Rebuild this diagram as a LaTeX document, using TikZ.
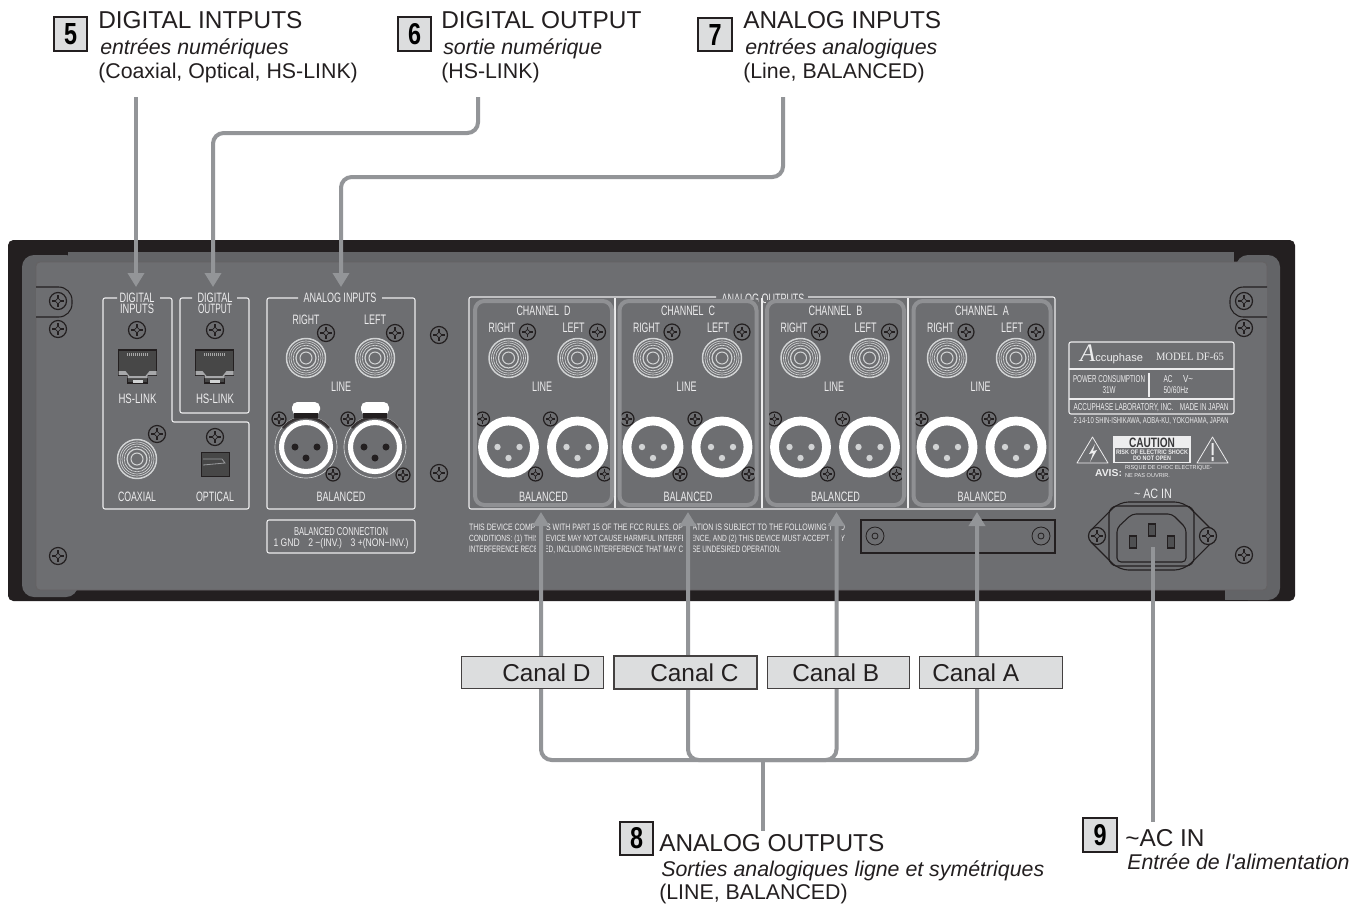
\documentclass[tikz,border=0pt]{standalone}
\usepackage{fontspec}
\usepackage{graphicx}
\setmainfont{Liberation Sans}
\newfontfamily\serifp{Liberation Serif}
\usetikzlibrary{arrows.meta}
\definecolor{bodyc}{HTML}{231F20}
\definecolor{rimc}{HTML}{636467}
\definecolor{panelc}{HTML}{6D6E71}
\definecolor{frameC}{HTML}{8F9093}
\definecolor{leadc}{HTML}{939598}
\definecolor{inkc}{HTML}{231F20}
\definecolor{paperc}{HTML}{DCDDDE}
\definecolor{whc}{HTML}{EDEDEE}
\definecolor{ringc}{HTML}{D1D3D4}
\newlength\pxu \setlength\pxu{.75pt}
\newcount\ptc
\tikzset{
  leader/.style={draw=leadc,line width=3pt,rounded corners=8pt},
  tipped/.style={-{Triangle[length=10.5pt,width=12pt]}},
  wbox/.style={draw=whc,line width=.8pt,rounded corners=1.5pt},
  badge/.style={draw=inkc,fill=paperc,line width=1.7pt,inner sep=0pt,minimum width=25pt,minimum height=25pt},
  canal/.style={draw=inkc!85,fill=paperc,line width=.7pt,inner sep=0pt,minimum width=107pt,minimum height=24.5pt},
  canaltx/.style={inner sep=0pt,anchor=base west,text=inkc,font=\fontsize{18.3}{20}\selectfont},
  headtx/.style={inner sep=0pt,anchor=base west,text=inkc,font=\fontsize{18.3}{20}\selectfont},
  ittx/.style={inner sep=0pt,anchor=base west,text=inkc,font=\fontsize{16}{18}\selectfont\itshape},
  subtx/.style={inner sep=0pt,anchor=base west,text=inkc,font=\fontsize{16}{18}\selectfont},
  ptn/.style={inner sep=0pt,anchor=base,text=whc},
  dk/.style={draw=bodyc,line width=.8pt},
}
\newcommand\ptxt[5][9.5]{\global\advance\ptc 1 \node[ptn] (pt\the\ptc) at (#2,#3) {\resizebox{#4\pxu}{#1\pxu}{#5}};}
\newcommand\dtxt[5][9.5]{\global\advance\ptc 1 \node[ptn,text=#5] (pt\the\ptc) at (#2,#3) {\resizebox{#4\pxu}{#1\pxu}{\textbf{CAUTION}}};}
\newcommand\screw[3]{\begin{scope}[shift={(#1,#2)}]
  \draw[draw=bodyc,line width=.9pt,fill=panelc] (0,0) circle (#3);
  \draw[draw=bodyc,line width=1.4pt] ({-.68*#3},0) -- ({.68*#3},0) (0,{-.68*#3}) -- (0,{.68*#3});
  \draw[draw=bodyc,line width=.5pt,fill=panelc] ({-.33*#3},0) -- (0,{-.33*#3}) -- ({.33*#3},0) -- (0,{.33*#3}) -- cycle;
\end{scope}}
\newcommand\rca[2]{\begin{scope}[shift={(#1,#2)}]
  \draw[ringc,line width=1.1pt] (0,0) circle (19.5);
  \foreach \r in {17,15,12.8} {\draw[ringc,line width=.5pt] (0,0) circle (\r);}
  \draw[ringc,line width=.9pt] (0,0) circle (10);
  \draw[ringc,line width=.8pt] (0,0) circle (6);
\end{scope}}
\newcommand\rj[2]{\begin{scope}[shift={(#1,#2)}]
  \draw[fill=black!72,draw=bodyc,line width=.8pt] (-19,-7) -- (19,-7) -- (19,18) -- (10,18) -- (10,26) -- (-10,26) -- (-10,18) -- (-19,18) -- cycle;
  \fill[panelc!60] (-19,18) -- (-19,14) -- (-12,14) -- (-8,19) -- (8,19) -- (12,14) -- (19,14) -- (19,18) -- (10,18) -- (10,21) -- (-10,21) -- (-10,18) -- cycle;
  \fill[ringc] (-5,23) rectangle (5,26);
  \foreach \d in {-10,-8,...,10} {\fill[black!35] ({\d-.5},-4.5) rectangle ({\d+.5},-1);}
\end{scope}}
\newcommand\xlrf[2]{\begin{scope}[shift={(#1,#2)}]
  \draw[ringc,line width=.5pt] (0,0) circle (31);
  \draw[bodyc!90,line width=2pt] (-23,-19) arc[start angle=220,end angle=320,radius=30];
  \fill[white,rounded corners=4pt] (-14,-45) rectangle (14,-32);
  \fill[bodyc] (-12,-34) rectangle (12,-29);
  \draw[white,line width=3.8pt] (0,0) circle (24.5);
  \fill[bodyc] (-11,0) circle (3.5) (11,0) circle (3.5) (0,11) circle (3.5);
\end{scope}}
\newcommand\xlrm[2]{\begin{scope}[shift={(#1,#2)}]
  \draw[white,line width=6.6pt] (0,0) circle (26);
  \fill[ringc] (-11,0) circle (3.2) (11,0) circle (3.2) (0,11) circle (3.2);
\end{scope}}
\begin{document}
\begin{tikzpicture}[x=.75pt,y=-.75pt]
\useasboundingbox (0,0) rectangle (1365,904);
\fill[white] (0,0) rectangle (1365,904);

% chassis
\fill[bodyc,rounded corners=4pt] (8,240) rectangle (1295,601);
\fill[rimc,rounded corners=9pt] (22,255) rectangle (78,597);
\fill[rimc] (68,252) rectangle (1234,268);
\fill[rimc,rounded corners=9pt] (1236,255) rectangle (1280,600);
\fill[rimc] (1225,585) rectangle (1260,600);
\draw[fill=panelc,draw=bodyc!70,line width=.6pt,rounded corners=3pt] (36,262) rectangle (1267,590);

% lugs
\draw[dk,fill=panelc,rounded corners=10pt] (36,287) -- (72,287) -- (72,317) -- (36,317);
\draw[dk,fill=panelc,rounded corners=10pt] (1267,287) -- (1230,287) -- (1230,317) -- (1267,317);

% chassis screws
\screw{58}{301}{8.5}\screw{58}{329}{8.5}\screw{58}{556}{8.5}
\screw{1244}{301}{8.5}\screw{1244}{328}{8.5}\screw{1244}{555}{8.5}
\screw{439}{335}{8.5}\screw{439}{473}{8.5}

% digital group
\draw[wbox] (117,298) -- (103,298) -- (103,509) -- (249,509) -- (249,422) -- (172,422) -- (172,298) -- (160,298);
\draw[wbox] (192,298) -- (180,298) -- (180,413) -- (249,413) -- (249,298) -- (237,298);
\ptxt{137}{302}{35}{DIGITAL}\ptxt{137}{313}{34}{INPUTS}
\ptxt{215}{302}{35}{DIGITAL}\ptxt{215}{313}{34}{OUTPUT}
\screw{137}{330}{8.5}\screw{215}{330}{8.5}
\rj{137.5}{357}\rj{214.5}{357}
\ptxt{137.5}{403}{38}{HS-LINK}\ptxt{215}{403}{38}{HS-LINK}
\rca{137}{459}\screw{157}{434}{8.5}
\screw{215}{437}{8.5}
\fill[black!72,draw=bodyc,line width=.7pt] (201.5,452) rectangle (229,476);
\draw[panelc!70,line width=.6pt] (203,459) -- (222,459) -- (225,463) -- (203,465);
\ptxt{137}{501}{38}{COAXIAL}\ptxt{215}{501}{38}{OPTICAL}

% analog inputs
\draw[wbox] (298,298) -- (267,298) -- (267,509) -- (415,509) -- (415,298) -- (382,298);
\ptxt{340}{302}{73}{ANALOG INPUTS}
\ptxt{306}{324}{27}{RIGHT}\ptxt{375}{324}{22}{LEFT}
\rca{306}{358}\rca{375}{358}
\screw{326}{333}{8.5}\screw{395}{333}{8.5}
\ptxt{341}{391}{20}{LINE}
\xlrf{306}{447}\xlrf{375}{447}
\screw{279}{419}{7}\screw{348}{419}{7}\screw{333}{474}{7}\screw{403}{475}{7}
\ptxt{341}{501}{49}{BALANCED}
\draw[wbox] (267,520) rectangle (415,553);
\ptxt[8]{341}{535}{94}{BALANCED CONNECTION}
\ptxt[8]{341}{546}{135}{1 GND\quad 2 −(INV.)\quad 3 +(NON−INV.)}

% analog outputs
\draw[wbox] (716,297) -- (469,297) -- (469,509) -- (1055,509) -- (1055,297) -- (808,297);
\ptxt{763}{303}{83}{ANALOG OUTPUTS}
\draw[whc,line width=.8pt] (615,298) -- (615,508) (762,298) -- (762,508) (908,298) -- (908,508);
\foreach \cx/\nm in {543.5/D,688/C,835.5/B,982/A}{
  \fill[panelc] (\cx-70,300) rectangle (\cx+70,506);
  \ptxt{\cx}{315}{54}{CHANNEL\ \ \nm}
  \ptxt{\cx-41.5}{332}{27}{RIGHT}\ptxt{\cx+30}{332}{22}{LEFT}
  \rca{\cx-35}{358}\rca{\cx+34}{358}
  \screw{\cx-16}{332}{8}\screw{\cx+54}{332}{8}
  \ptxt{\cx-1.5}{391}{20}{LINE}
  \xlrm{\cx-35}{447}\xlrm{\cx+34}{447}
  \screw{\cx-61}{419}{7}\screw{\cx+7}{419}{7}\screw{\cx-8}{474}{7}\screw{\cx+61}{474}{7}
  \ptxt{\cx}{501}{49}{BALANCED}
  \draw[frameC,line width=3pt,rounded corners=7pt] (\cx-68.5,301) rectangle (\cx+68.5,505);
}

% FCC notice
\ptxt[6.5]{657}{530}{376}{THIS DEVICE COMPLIES WITH PART 15 OF THE FCC RULES. OPERATION IS SUBJECT TO THE FOLLOWING TWO}
\ptxt[6.5]{657}{541}{376}{CONDITIONS: (1) THIS DEVICE MAY NOT CAUSE HARMFUL INTERFERENCE, AND (2) THIS DEVICE MUST ACCEPT ANY}
\ptxt[6.5]{625}{552}{312}{INTERFERENCE RECEIVED, INCLUDING INTERFERENCE THAT MAY CAUSE UNDESIRED OPERATION.}

% blank plate
\draw[dk] (861,520) rectangle (1055,553);
\draw[dk,line width=.6pt] (875,536) circle (9) (875,536) circle (3) (1041,536) circle (9) (1041,536) circle (3);

% rating plate
\draw[wbox] (1069,342) rectangle (1234,414);
\draw[whc,line width=.8pt] (1069,369) -- (1234,369) (1069,399) -- (1234,399);
\draw[whc,line width=.8pt] (1149,373) -- (1149,397);
\node[ptn] (logo) at (1111.5,361) {\resizebox{63\pxu}{!}{{\serifp\itshape\fontsize{34}{34}\selectfont A}{\fontsize{15}{15}\selectfont ccuphase}}};
\node[ptn] (model) at (1190,360) {\resizebox{68\pxu}{7.5\pxu}{\serifp MODEL DF-65}};
\ptxt[7]{1109}{382}{72}{POWER CONSUMPTION}\ptxt[7]{1109}{393}{13}{31W}
\ptxt[7]{1168}{382}{9}{AC}\ptxt[7]{1188}{382}{10}{V\textasciitilde}
\ptxt[7]{1176}{393}{25}{50/60Hz}
\ptxt[7]{1151}{410}{155}{ACCUPHASE LABORATORY, INC.\quad MADE IN JAPAN}
\ptxt[6]{1151}{423}{155}{2-14-10 SHIN-ISHIKAWA, AOBA-KU, YOKOHAMA, JAPAN}
\draw[whc,line width=.6pt,line join=round] (1077,463) -- (1092.5,437) -- (1108,463) -- cycle;
\fill[whc] (1095,444) -- (1089,454) -- (1093,453) -- (1090,462) -- (1097,450) -- (1093,451) -- cycle;
\draw[whc,line width=.6pt,line join=round] (1197,463) -- (1212.5,437) -- (1228,463) -- cycle;
\fill[whc] (1211.5,443) rectangle (1213.5,455) (1211.5,457) rectangle (1213.5,461);
\fill[whc] (1113,436) rectangle (1191,463);
\fill[panelc] (1115,448) rectangle (1189,461.5);
\dtxt{1152}{447}{46}{panelc!50!black}
\ptxt[4.5]{1152}{454}{72}{\textbf{RISK OF ELECTRIC SHOCK}}
\ptxt[4.5]{1152}{460.5}{38}{\textbf{DO NOT OPEN}}
\ptxt[7]{1108.5}{476}{27}{\textbf{AVIS:}}
\ptxt[4]{1168.5}{469.5}{87}{RISQUE DE CHOC ELECTRIQUE-}
\ptxt[4]{1147.5}{477.5}{45}{NE PAS OUVRIR.}

% AC inlet
\ptxt{1153}{498}{38}{\textasciitilde\ AC IN}
\draw[dk,rounded corners=7pt] (1085,536) -- (1119,502) -- (1184,502) -- (1218,536) -- (1184,570) -- (1119,570) -- cycle;
\draw[dk,rounded corners=6pt] (1109,506) rectangle (1194,566);
\draw[dk,rounded corners=3pt] (1117,528) -- (1132,514) -- (1172,514) -- (1186,528) -- (1186,562) -- (1117,562) -- cycle;
\draw[dk,fill=rimc!80!black] (1129.5,536) rectangle (1136.5,548) (1148.5,524) rectangle (1155.5,536) (1167.5,536) rectangle (1174.5,548);
\screw{1097}{536}{8.5}\screw{1208}{536}{8.5}

% callout text
\node[badge] (b5) at (70.5,34) {\resizebox{13\pxu}{21\pxu}{\textbf{5}}};
\node[headtx] (t5a) at (98,28) {DIGITAL INTPUTS};
\node[ittx]   (t5b) at (100,54) {entrées numériques};
\node[subtx]  (t5c) at (98,78) {(Coaxial, Optical, HS-LINK)};
\node[badge] (b6) at (414.5,34) {\resizebox{13\pxu}{21\pxu}{\textbf{6}}};
\node[headtx] (t6a) at (441,28) {DIGITAL OUTPUT};
\node[ittx]   (t6b) at (443,54) {sortie numérique};
\node[subtx]  (t6c) at (441,78) {(HS-LINK)};
\node[badge] (b7) at (715,34.5) {\resizebox{13\pxu}{21\pxu}{\textbf{7}}};
\node[headtx] (t7a) at (743,28) {ANALOG INPUTS};
\node[ittx]   (t7b) at (745,54) {entrées analogiques};
\node[subtx]  (t7c) at (743,78) {(Line, BALANCED)};
\node[badge] (b8) at (636.5,838.5) {\resizebox{13\pxu}{21\pxu}{\textbf{8}}};
\node[headtx] (t8a) at (659,851) {ANALOG OUTPUTS};
\node[ittx]   (t8b) at (661,876) {Sorties analogiques ligne et symétriques};
\node[subtx]  (t8c) at (659,899) {(LINE, BALANCED)};
\node[badge] (b9) at (1100,835) {\resizebox{13\pxu}{21\pxu}{\textbf{9}}};
\node[headtx] (t9a) at (1125,846) {\textasciitilde AC IN};
\node[ittx]   (t9b) at (1127,869) {Entrée de l\textquotesingle alimentation};

% connectors: upper callouts
\coordinate (s5) at (136,97); \coordinate (e5) at (136,287);
\coordinate (s6) at (478,97); \coordinate (k6a) at (478,133); \coordinate (k6b) at (213,133); \coordinate (e6) at (213,287);
\coordinate (s7) at (783,97); \coordinate (k7a) at (783,177); \coordinate (k7b) at (341,177); \coordinate (e7) at (341,287);
\draw[leader,tipped] (s5) -- (e5);
\draw[leader,tipped] (s6) -- (k6a) -- (k6b) -- (e6);
\draw[leader,tipped] (s7) -- (k7a) -- (k7b) -- (e7);

% gaps the arrows leave in the notice
\fill[panelc] (536,524) rectangle (546,556) (683,524) rectangle (693,556) (831.5,524) rectangle (841.5,556);

% connectors: channel bus
\coordinate (bus) at (763,760); \coordinate (st8) at (763,831);
\coordinate (kD) at (541,760); \coordinate (eD) at (541,512);
\coordinate (kC) at (688,760); \coordinate (eC) at (688,512);
\coordinate (kB) at (836.5,760); \coordinate (eB) at (836.5,512);
\coordinate (kA) at (977,760); \coordinate (eA) at (977,512);
\draw[leader,tipped] (bus) -- (kD) -- (eD);
\draw[leader,tipped] (bus) -- (kC) -- (eC);
\draw[leader,tipped] (bus) -- (kB) -- (eB);
\draw[leader,tipped] (bus) -- (kA) -- (eA);
\draw[leader] (bus) -- (st8);

% connector: AC in
\coordinate (s9) at (1153,547); \coordinate (e9) at (1153,822);
\draw[leader] (s9) -- (e9);

% channel labels
\node[canal] (cD) at (532.5,672.5) {};
\node[canal,line width=1.2pt] (cC) at (685.5,672.5) {};
\node[canal] (cB) at (838.5,672.5) {};
\node[canal] (cA) at (991,672.5) {};
\node[canaltx] (lD) at (502,681) {Canal D};
\node[canaltx] (lC) at (650,681) {Canal C};
\node[canaltx] (lB) at (792,681) {Canal B};
\node[canaltx] (lA) at (932,681) {Canal A};
\end{tikzpicture}
\end{document}
